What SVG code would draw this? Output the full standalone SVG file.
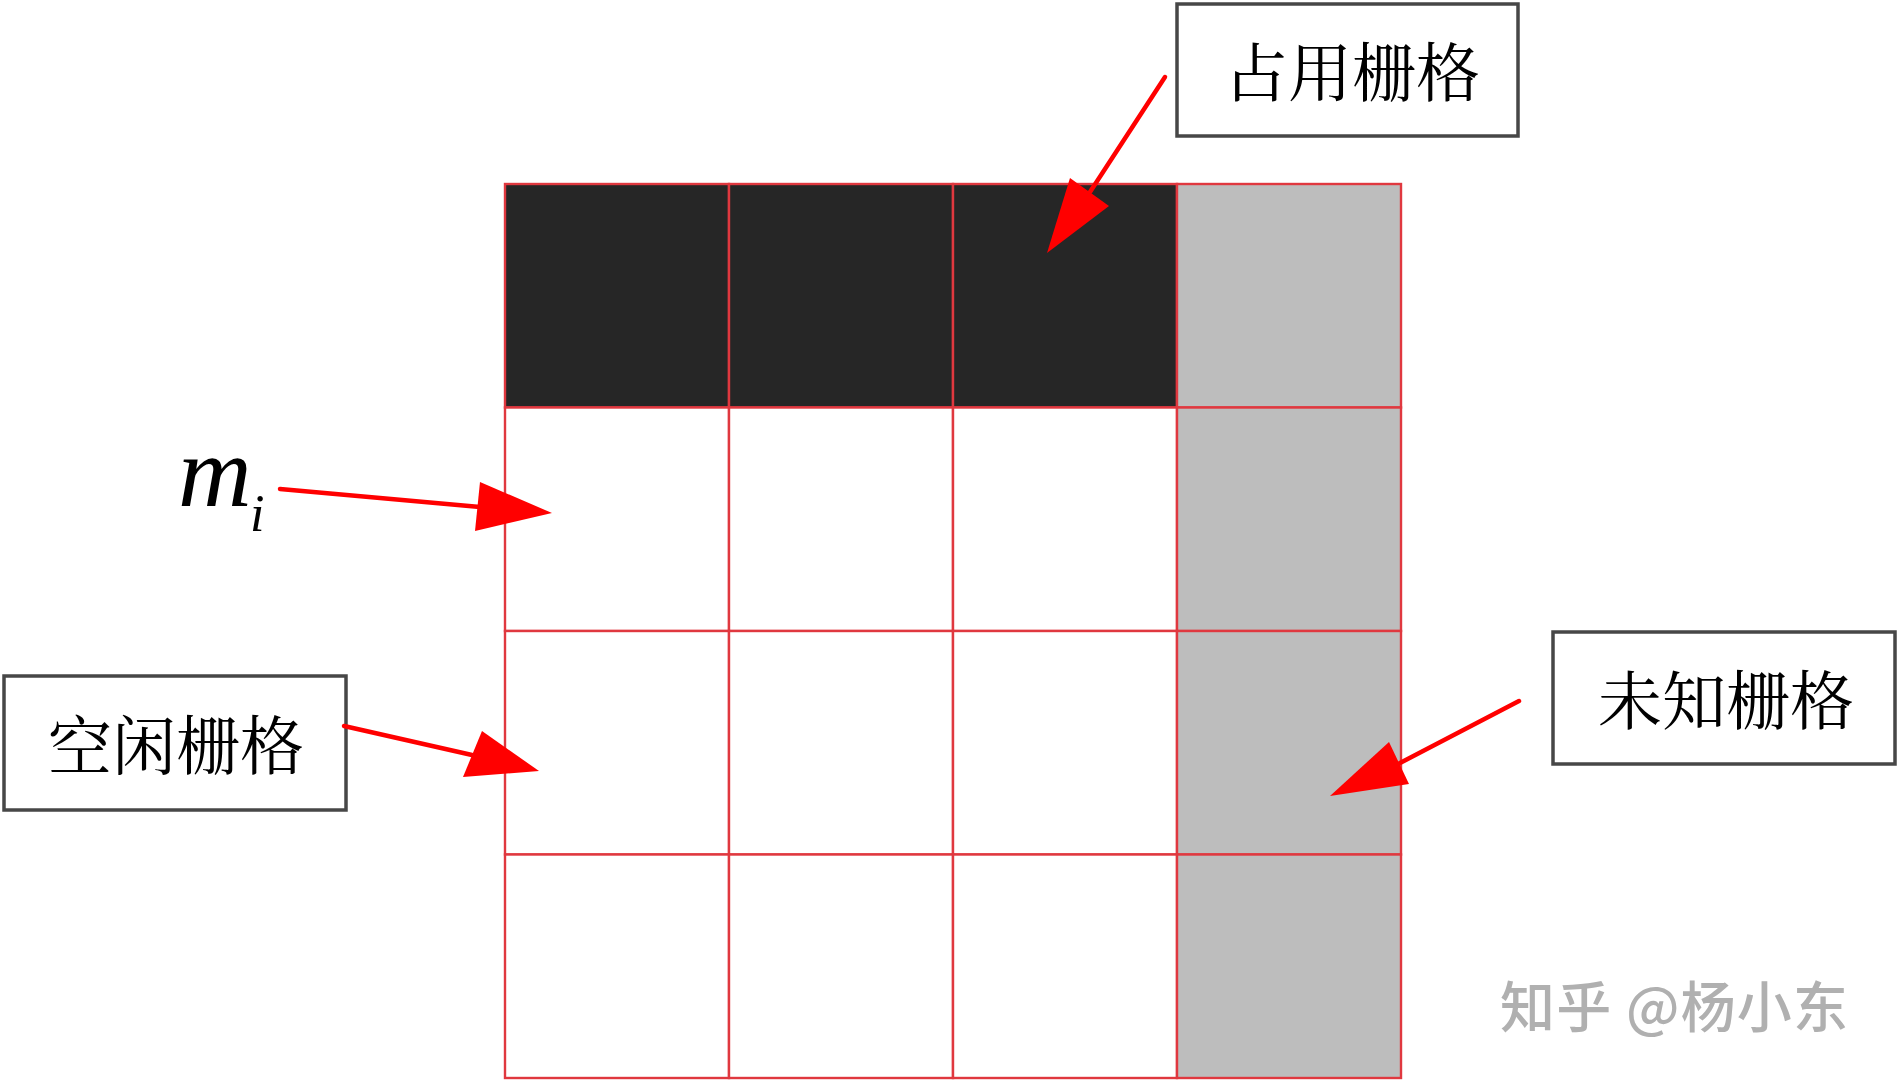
<svg xmlns="http://www.w3.org/2000/svg" width="1900" height="1081" viewBox="0 0 1900 1081">
<style>
.cell{stroke:#e0383f;stroke-width:2.4}
.occ{fill:#262626}
.free{fill:#ffffff}
.unk{fill:#bdbdbd}
.box{fill:#ffffff;stroke:#474747;stroke-width:3.5}
.lbl{font-family:"Noto Serif CJK SC","Noto Sans CJK SC",serif;font-size:64px;fill:#000;text-anchor:middle;dominant-baseline:central}
.conn{stroke:#ff0000;stroke-width:4.5;stroke-linecap:round;fill:none}
.head{fill:#ff0000;stroke:none}
.math{font-family:"Liberation Serif","Times New Roman",serif;font-style:italic;fill:#000}
.wm{font-family:"Noto Sans CJK SC",sans-serif;font-size:55px;fill:#b0b0b0;font-weight:500}
</style>
<rect width="1900" height="1081" fill="#ffffff"/>
<g id="grid">
<rect class="cell occ" x="505" y="184" width="224" height="223.5"/>
<rect class="cell occ" x="729" y="184" width="224" height="223.5"/>
<rect class="cell occ" x="953" y="184" width="224" height="223.5"/>
<rect class="cell unk" x="1177" y="184" width="224" height="223.5"/>
<rect class="cell free" x="505" y="407.5" width="224" height="223.5"/>
<rect class="cell free" x="729" y="407.5" width="224" height="223.5"/>
<rect class="cell free" x="953" y="407.5" width="224" height="223.5"/>
<rect class="cell unk" x="1177" y="407.5" width="224" height="223.5"/>
<rect class="cell free" x="505" y="631" width="224" height="223.5"/>
<rect class="cell free" x="729" y="631" width="224" height="223.5"/>
<rect class="cell free" x="953" y="631" width="224" height="223.5"/>
<rect class="cell unk" x="1177" y="631" width="224" height="223.5"/>
<rect class="cell free" x="505" y="854.5" width="224" height="223.5"/>
<rect class="cell free" x="729" y="854.5" width="224" height="223.5"/>
<rect class="cell free" x="953" y="854.5" width="224" height="223.5"/>
<rect class="cell unk" x="1177" y="854.5" width="224" height="223.5"/>
</g>
<g id="label-occupied">
<rect class="box" x="1177" y="4" width="341" height="132"/>
<text class="lbl" x="1352" y="68">占用栅格</text>
</g>
<g id="label-free">
<rect class="box" x="4" y="676" width="342" height="134"/>
<text class="lbl" x="176" y="741">空闲栅格</text>
</g>
<g id="label-unknown">
<rect class="box" x="1553" y="632" width="342" height="132"/>
<text class="lbl" x="1726" y="696">未知栅格</text>
</g>
<g id="label-mi">
<text class="math" x="178" y="506" font-size="102">m</text>
<text class="math" x="250" y="531" font-size="52">i</text>
</g>
<g id="connectors">
<line class="conn" x1="1165" y1="77" x2="1090" y2="192"/>
<polygon class="head" points="1047,253 1070,178 1109,206"/>
<line class="conn" x1="280" y1="489" x2="480" y2="507"/>
<polygon class="head" points="552,513 480,482 475,531"/>
<line class="conn" x1="344" y1="726" x2="472" y2="755"/>
<polygon class="head" points="539,771 482,731 463,777"/>
<line class="conn" x1="1519" y1="701" x2="1400" y2="763"/>
<polygon class="head" points="1330,796 1389,742 1409,784"/>
</g>
<g id="watermark">
<text class="wm" x="1500" y="1003" dominant-baseline="central" textLength="348">知乎 @杨小东</text>
</g>
</svg>
